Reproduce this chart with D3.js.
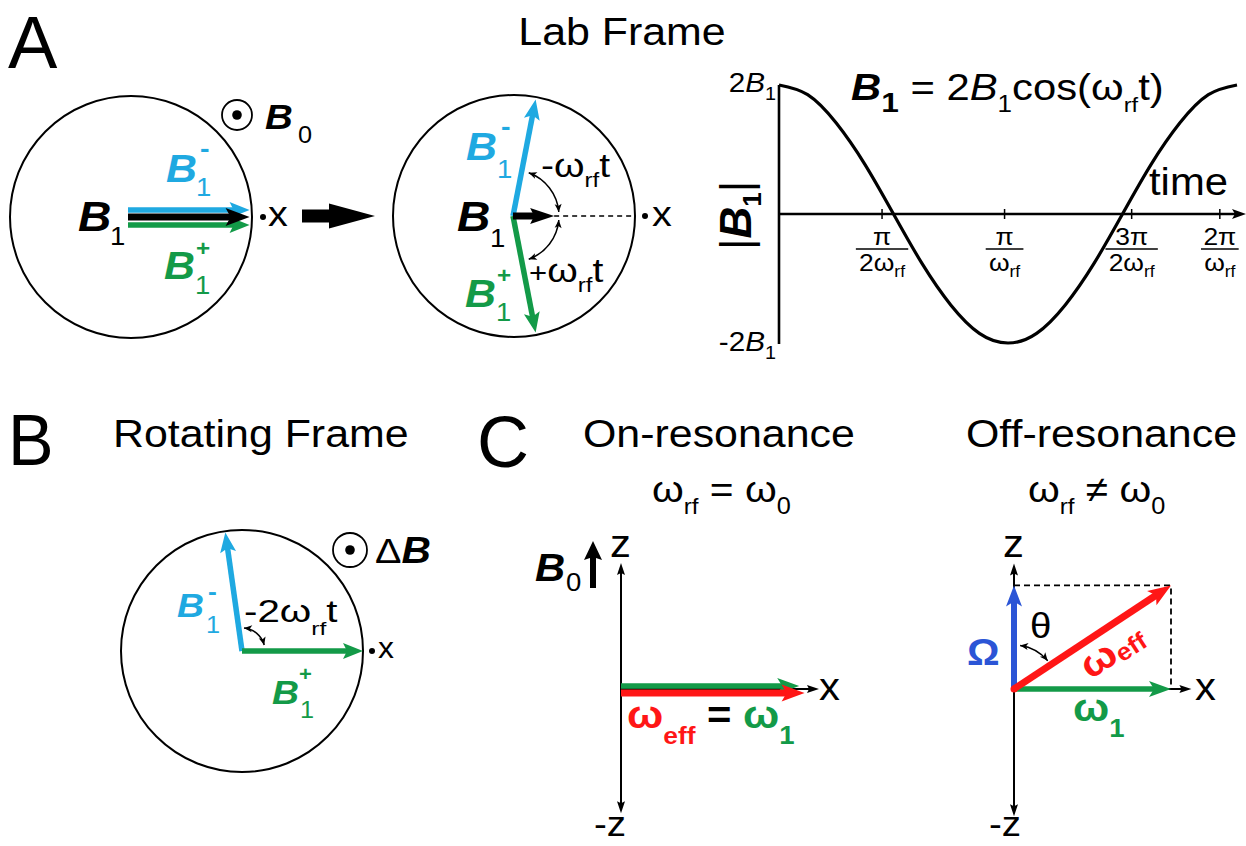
<!DOCTYPE html>
<html><head><meta charset="utf-8">
<script src="https://cdn.jsdelivr.net/npm/d3@7"></script>
<style>body{margin:0;background:#fff}svg{display:block}text{white-space:pre}</style>
</head><body>
<svg id="c" width="1246" height="846"></svg>
<script>
// ---------------- DATA ----------------
// Panel A (lab frame): vectors at t = 0 and at a later time t (angle in degrees, magnitude in circle radii)
const labNames = ["B1-", "B1+", "B1"];
const labT0Angles = [0, 0, 0];
const labT0Mags = [0.98, 0.98, 0.98];
const labTAngles = [79, -79, 0];
const labTMags = [0.98, 0.98, 0.34];
// Panel A plot: |B1| = 2B1 cos(wrf t), time in units of pi/wrf, field in units of B1
const timeSamples = [0, 0.125, 0.25, 0.375, 0.5, 0.625, 0.75, 0.875, 1, 1.125, 1.25, 1.375, 1.5, 1.625, 1.75, 1.875, 2];
const fieldSamples = [2, 1.85, 1.41, 0.77, 0, -0.77, -1.41, -1.85, -2, -1.85, -1.41, -0.77, 0, 0.77, 1.41, 1.85, 2];
const yTickValues = [2, -2];
const yTickPrefix = ["2", "-2"];
const xTickValues = [0.45, 0.985, 1.54, 1.925];
const xTickNum = ["π", "π", "3π", "2π"];
const xTickDen = ["2ω", "ω", "2ω", "ω"];
// Panel B (rotating frame)
const rotNames = ["B1-", "B1+"];
const rotAngles = [98, 0];
const rotMags = [0.99, 1.0];
// Panel C on-resonance: x and z components (units of w1)
const onNames = ["ω1", "ωeff"];
const onX = [0.99, 1.02];
const onZ = [0, 0];
// Panel C off-resonance
const offNames = ["ω1", "Ω", "ωeff"];
const offX = [1.0, 0, 1.0];
const offZ = [0, 0.66, 0.66];

// ---------------- SETUP ----------------
const svg = d3.select("#c");
svg.append("rect").attr("width", 1246).attr("height", 846).attr("fill", "#fff");
const FONT = "'Liberation Sans', Arial, Helvetica, sans-serif";
const SX = 1.1;
const COL = {cyan: "#1fa9e1", green: "#139a48", red: "#ff1616", royal: "#2b55d6", ink: "#000"};

function rich(x, y, segs, o = {}) {
  const sx = o.sx ?? SX;
  const t = (o.g || svg).append("text")
    .attr("transform", `translate(${x},${y})` + (o.rot ? ` rotate(${o.rot})` : "") + ` scale(${sx},1)`)
    .attr("font-family", FONT).attr("text-anchor", o.anchor || "start")
    .attr("fill", o.fill || "#000");
  let prev = 0;
  segs.forEach(s => {
    const sh = s.sh || 0;
    const ts = t.append("tspan").attr("font-size", s.fs).text(s.t);
    if (sh !== prev) ts.attr("dy", sh - prev);
    if (s.dx) ts.attr("dx", s.dx);
    if (s.b) ts.attr("font-weight", "bold");
    if (s.i) ts.attr("font-style", "italic");
    if (s.c) ts.attr("fill", s.c);
    prev = sh;
  });
  return t;
}

function arrow(g, x1, y1, x2, y2, o) {
  const dx = x2 - x1, dy = y2 - y1, L = Math.hypot(dx, dy);
  const ux = dx / L, uy = dy / L, nx = -uy, ny = ux;
  const hl = o.hl, hw = o.hw, notch = o.notch || 0;
  const bx = x2 - ux * hl, by = y2 - uy * hl;
  g.append("line").attr("x1", x1).attr("y1", y1)
    .attr("x2", bx + ux * (notch + 1)).attr("y2", by + uy * (notch + 1))
    .attr("stroke", o.color).attr("stroke-width", o.w).attr("stroke-dasharray", o.dash || null);
  g.append("path").attr("d", `M${x2},${y2}L${bx + nx * hw / 2},${by + ny * hw / 2}L${bx + ux * notch},${by + uy * notch}L${bx - nx * hw / 2},${by - ny * hw / 2}Z`)
    .attr("fill", o.color);
}
function head(g, tx, ty, ux, uy, hl, hw, color) {
  const nx = -uy, ny = ux, bx = tx - ux * hl, by = ty - uy * hl;
  g.append("path").attr("d", `M${tx},${ty}L${bx + nx * hw / 2},${by + ny * hw / 2}L${bx + ux * hl * 0.25},${by + uy * hl * 0.25}L${bx - nx * hw / 2},${by - ny * hw / 2}Z`).attr("fill", color);
}
function arcArrow(g, cx, cy, r, a1, a2) {
  const rad = d => d * Math.PI / 180;
  const s1 = -rad(a1), s2 = -rad(a2);
  const p = d3.path();
  p.moveTo(cx + r * Math.cos(s1), cy + r * Math.sin(s1));
  p.arc(cx, cy, r, s1, s2, s2 < s1);
  g.append("path").attr("d", p.toString()).attr("fill", "none").attr("stroke", "#000").attr("stroke-width", 1.5);
  [[a1, a2], [a2, a1]].forEach(([from, to]) => {
    const a = rad(to), sg = Math.sign(to - from);
    head(g, cx + r * Math.cos(a), cy - r * Math.sin(a), -Math.sin(a) * sg, -Math.cos(a) * sg, 8, 7, "#000");
  });
}
function circledDot(g, cx, cy, r) {
  g.append("circle").attr("cx", cx).attr("cy", cy).attr("r", r).attr("fill", "none").attr("stroke", "#000").attr("stroke-width", 1.8);
  g.append("circle").attr("cx", cx).attr("cy", cy).attr("r", 4.8).attr("fill", "#000");
}
function dot(g, cx, cy) { g.append("circle").attr("cx", cx).attr("cy", cy).attr("r", 3).attr("fill", "#000"); }

const g = svg.append("g");
const R = 121;
const rScale = d3.scaleLinear().domain([0, 1]).range([0, R]);
function polar(c, ang, mag) {
  const a = ang * Math.PI / 180;
  return [c.x + rScale(mag) * Math.cos(a), c.y - rScale(mag) * Math.sin(a)];
}
const vecStyle = {
  "B1-": {color: COL.cyan, w: 5.5, hl: 20, hw: 16, notch: 4},
  "B1+": {color: COL.green, w: 5.5, hl: 20, hw: 16, notch: 4},
  "B1": {color: COL.ink, w: 7, hl: 24, hw: 18, notch: 5}
};

// ---------------- PANEL A ----------------
rich(8, 68, [{t: "A", fs: 74}], {sx: 1});
rich(622, 45, [{t: "Lab Frame", fs: 39}], {anchor: "middle"});

// circle 1
const cA1 = {x: 131, y: 217};
g.append("circle").attr("cx", cA1.x).attr("cy", cA1.y).attr("r", R).attr("fill", "none").attr("stroke", "#000").attr("stroke-width", 2);
const off1 = {"B1-": -7, "B1+": 8, "B1": 0};
labNames.forEach((n, i) => {
  const [x2, y2] = polar(cA1, labT0Angles[i], labT0Mags[i]);
  arrow(g, cA1.x - 3, cA1.y + off1[n], x2, y2 + off1[n], vecStyle[n]);
});
circledDot(g, 237, 115, 15);
dot(g, 263, 217);
rich(268, 226, [{t: "x", fs: 36}]);
rich(78, 231, [{t: "B", fs: 42, b: 1, i: 1}]);
rich(110, 245, [{t: "1", fs: 25}]);
rich(166, 182, [{t: "B", fs: 39, b: 1, i: 1}], {fill: COL.cyan});
rich(200, 157, [{t: "-", fs: 26, b: 1}], {fill: COL.cyan});
rich(196, 196, [{t: "1", fs: 25}], {fill: COL.cyan});
rich(164, 279, [{t: "B", fs: 39, b: 1, i: 1}], {fill: COL.green});
rich(196, 256, [{t: "+", fs: 22, b: 1}], {fill: COL.green});
rich(195, 294, [{t: "1", fs: 25}], {fill: COL.green});
rich(265, 129, [{t: "B", fs: 35, b: 1, i: 1}]);
rich(298, 143, [{t: "0", fs: 23}]);

// big arrow between circles
arrow(g, 302, 216, 375, 216, {color: "#000", w: 13, hl: 46, hw: 25, notch: 0});

// circle 2
const cA2 = {x: 513, y: 216};
g.append("circle").attr("cx", 514).attr("cy", cA2.y).attr("r", R).attr("fill", "none").attr("stroke", "#000").attr("stroke-width", 2);
let tipB1 = null;
labNames.forEach((n, i) => {
  const [x2, y2] = polar(cA2, labTAngles[i], labTMags[i]);
  if (n === "B1") tipB1 = [x2, y2];
  arrow(g, cA2.x, cA2.y, x2, y2, n === "B1" ? {color: "#000", w: 7, hl: 24, hw: 16, notch: 4} : vecStyle[n]);
});
g.append("line").attr("x1", tipB1[0]).attr("y1", cA2.y).attr("x2", 635).attr("y2", cA2.y)
  .attr("stroke", "#000").attr("stroke-width", 1.6).attr("stroke-dasharray", "5,4");
arcArrow(g, cA2.x, cA2.y, 46, 70, 5);
arcArrow(g, cA2.x, cA2.y, 46, -5, -70);
dot(g, 645, 216);
rich(652, 226, [{t: "x", fs: 36}]);
rich(457, 231, [{t: "B", fs: 42, b: 1, i: 1}]);
rich(490, 247, [{t: "1", fs: 25}]);
rich(466, 160, [{t: "B", fs: 39, b: 1, i: 1}], {fill: COL.cyan});
rich(501, 135, [{t: "-", fs: 26, b: 1}], {fill: COL.cyan});
rich(497, 178, [{t: "1", fs: 25}], {fill: COL.cyan});
rich(465, 307, [{t: "B", fs: 39, b: 1, i: 1}], {fill: COL.green});
rich(497, 283, [{t: "+", fs: 22, b: 1}], {fill: COL.green});
rich(496, 321, [{t: "1", fs: 25}], {fill: COL.green});
rich(541, 177, [{t: "-ω", fs: 34}, {t: "rf", fs: 21, sh: 10}, {t: "t", fs: 34, sh: 0}], {sx: 1.15});
rich(529, 282, [{t: "+", fs: 27}, {t: "ω", fs: 34}, {t: "rf", fs: 21, sh: 10}, {t: "t", fs: 34, sh: 0}], {sx: 1.15});

// cosine plot
const xT = d3.scaleLinear().domain([0, 2]).range([779, 1237]);
const yB = d3.scaleLinear().domain([-2, 2]).range([343, 85]);
const pg = svg.append("g");
pg.append("line").attr("x1", xT(0)).attr("x2", xT(0)).attr("y1", yB(2)).attr("y2", yB(-2) + 1)
  .attr("stroke", "#000").attr("stroke-width", 2.6);
arrow(pg, xT(0), yB(0), 1246, yB(0), {color: "#000", w: 2.4, hl: 14, hw: 10, notch: 3});
xTickValues.forEach((v, i) => {
  const cx = xT(v);
  pg.append("line").attr("x1", cx).attr("x2", cx).attr("y1", yB(0) - 5).attr("y2", yB(0) + 5).attr("stroke", "#000").attr("stroke-width", 1.5);
  rich(cx, 245, [{t: xTickNum[i], fs: 24}], {anchor: "middle", g: pg});
  const den = rich(cx, 271, [{t: xTickDen[i], fs: 24}, {t: "rf", fs: 16, sh: 6}], {anchor: "middle", g: pg});
  const bw = den.node().getBBox().width * SX + 6;
  pg.append("line").attr("x1", cx - bw / 2).attr("x2", cx + bw / 2).attr("y1", 249).attr("y2", 249).attr("stroke", "#000").attr("stroke-width", 1.6);
});
const line = d3.line().x((d, i) => xT(timeSamples[i])).y(d => yB(d)).curve(d3.curveNatural);
pg.append("path").attr("d", line(fieldSamples)).attr("fill", "none").attr("stroke", "#000").attr("stroke-width", 3.2);
yTickValues.forEach((v, i) => {
  rich(xT(0) - 3, yB(v) + 7 + (v < 0 ? 1 : 0), [{t: yTickPrefix[i], fs: 27}, {t: "B", fs: 27, i: 1}, {t: "1", fs: 18, sh: 8}], {anchor: "end", g: pg});
});
rich(751, 250, [{t: "|", fs: 44}, {t: "B", fs: 44, b: 1, i: 1}, {t: "1", fs: 26, b: 1, sh: 10}, {t: "|", fs: 44, sh: 0}], {rot: -90, sx: 1});
rich(851, 100, [{t: "B", fs: 37, b: 1, i: 1}, {t: "1", fs: 28, b: 1, sh: 12}, {t: " = 2", fs: 37, sh: 0},
  {t: "B", fs: 37, i: 1}, {t: "1", fs: 23, sh: 12}, {t: "cos(ω", fs: 37, sh: 0}, {t: "rf", fs: 21, sh: 12}, {t: "t)", fs: 37, sh: 0}], {sx: 1.13});
rich(1149, 195, [{t: "time", fs: 38}]);

// ---------------- PANEL B ----------------
rich(8, 465, [{t: "B", fs: 72}], {sx: 0.95});
rich(113, 447, [{t: "Rotating Frame", fs: 39}]);
const cB = {x: 242, y: 651};
g.append("circle").attr("cx", cB.x).attr("cy", cB.y).attr("r", R).attr("fill", "none").attr("stroke", "#000").attr("stroke-width", 2);
rotNames.forEach((n, i) => {
  const [x2, y2] = polar(cB, rotAngles[i], rotMags[i]);
  arrow(g, cB.x, cB.y, x2, y2, vecStyle[n]);
});
arcArrow(g, cB.x, cB.y, 23, 85, 15);
circledDot(g, 350, 550, 17);
rich(375, 563, [{t: "Δ", fs: 36}, {t: "B", fs: 37, b: 1, i: 1}]);
dot(g, 372, 651);
rich(378, 658, [{t: "x", fs: 29}]);
rich(177, 617, [{t: "B", fs: 34, b: 1, i: 1}], {fill: COL.cyan});
rich(208, 600, [{t: "-", fs: 24, b: 1}], {fill: COL.cyan});
rich(206, 633, [{t: "1", fs: 23}], {fill: COL.cyan});
rich(272, 704, [{t: "B", fs: 34, b: 1, i: 1}], {fill: COL.green});
rich(299, 681, [{t: "+", fs: 20, b: 1}], {fill: COL.green});
rich(300, 718, [{t: "1", fs: 23}], {fill: COL.green});
rich(244, 622, [{t: "-2ω", fs: 31}, {t: "rf", fs: 19, sh: 13}, {t: "t", fs: 31, sh: 0}], {sx: 1.3});

// ---------------- PANEL C ----------------
rich(477, 467, [{t: "C", fs: 72}], {sx: 1});
rich(583, 447, [{t: "On-resonance", fs: 39}]);
rich(966, 447, [{t: "Off-resonance", fs: 39}]);
rich(652, 502, [{t: "ω", fs: 37}, {t: "rf", fs: 22, sh: 12}, {t: " = ", fs: 37, sh: 0}, {t: "ω", fs: 37}, {t: "0", fs: 23, sh: 12}]);
rich(1028, 502, [{t: "ω", fs: 37}, {t: "rf", fs: 22, sh: 12}, {t: " ≠ ", fs: 37, sh: 0}, {t: "ω", fs: 37}, {t: "0", fs: 23, sh: 12}]);

const thin = {color: "#000", w: 2, hl: 12, hw: 8, notch: 2};
const vecC = {
  "ω1": {color: COL.green, w: 5.5, hl: 22, hw: 16, notch: 5},
  "ωeff": {color: COL.red, w: 7, hl: 23, hw: 17, notch: 5},
  "Ω": {color: COL.royal, w: 6, hl: 21, hw: 16, notch: 5}
};
// on-resonance
const onO = {x: 621, y: 689};
const onS = d3.scaleLinear().domain([0, 1]).range([0, 180]);
const cg = svg.append("g");
arrow(cg, onO.x, onO.y, onO.x, onO.y - onS(0.70), thin);
arrow(cg, onO.x, onO.y, onO.x, onO.y + onS(0.69), thin);
arrow(cg, onO.x, onO.y, onO.x + onS(1.10), onO.y, thin);
const onOff = {"ω1": -3, "ωeff": 4};
onNames.forEach((n, i) => {
  arrow(cg, onO.x, onO.y + onOff[n], onO.x + onS(onX[i]), onO.y - onS(onZ[i]) + onOff[n], vecC[n]);
});
arrow(cg, 593, 588, 593, 541, {color: "#000", w: 6, hl: 19, hw: 18, notch: 3});
rich(535, 581, [{t: "B", fs: 38, b: 1, i: 1}]);
rich(566, 591, [{t: "0", fs: 25}]);
rich(610, 557, [{t: "z", fs: 38}]);
rich(594, 836, [{t: "-z", fs: 35}]);
rich(819, 700, [{t: "x", fs: 38}]);
rich(627, 728, [{t: "ω", fs: 39, b: 1, c: COL.red}, {t: "eff", fs: 24, b: 1, c: COL.red, sh: 16},
  {t: " = ", fs: 38, b: 1, sh: 0}, {t: "ω", fs: 39, b: 1, c: COL.green}, {t: "1", fs: 25, b: 1, c: COL.green, sh: 16}]);

// off-resonance
const offO = {x: 1014, y: 689};
const offS = d3.scaleLinear().domain([0, 1]).range([0, 157]);
arrow(cg, offO.x, offO.y, offO.x, offO.y - offS(0.80), thin);
arrow(cg, offO.x, offO.y, offO.x, offO.y + offS(0.81), thin);
arrow(cg, offO.x, offO.y, offO.x + offS(1.13), offO.y, thin);
const effI = offNames.indexOf("ωeff");
const ex = offO.x + offS(offX[effI]), ez = offO.y - offS(offZ[effI]);
cg.append("path").attr("d", `M${offO.x},${ez}L${ex},${ez}L${ex},${offO.y}`).attr("fill", "none")
  .attr("stroke", "#000").attr("stroke-width", 1.8).attr("stroke-dasharray", "6,4");
offNames.forEach((n, i) => {
  arrow(cg, offO.x, offO.y, offO.x + offS(offX[i]), offO.y - offS(offZ[i]), vecC[n]);
});
cg.append("circle").attr("cx", offO.x).attr("cy", offO.y).attr("r", 3.5).attr("fill", COL.red);
arcArrow(cg, offO.x, offO.y, 44, 82, 40);
rich(1003, 557, [{t: "z", fs: 38}]);
rich(989, 836, [{t: "-z", fs: 35}]);
rich(1195, 700, [{t: "x", fs: 38}]);
rich(967, 665, [{t: "Ω", fs: 37, b: 1}], {fill: COL.royal});
rich(1030, 638, [{t: "θ", fs: 35}]);
rich(1073, 721, [{t: "ω", fs: 39, b: 1}, {t: "1", fs: 25, b: 1, sh: 16}], {fill: COL.green});
rich(1090, 680, [{t: "ω", fs: 39, b: 1}, {t: "eff", fs: 24, b: 1, sh: 3}], {fill: COL.red, rot: -33});
</script>
</body></html>
